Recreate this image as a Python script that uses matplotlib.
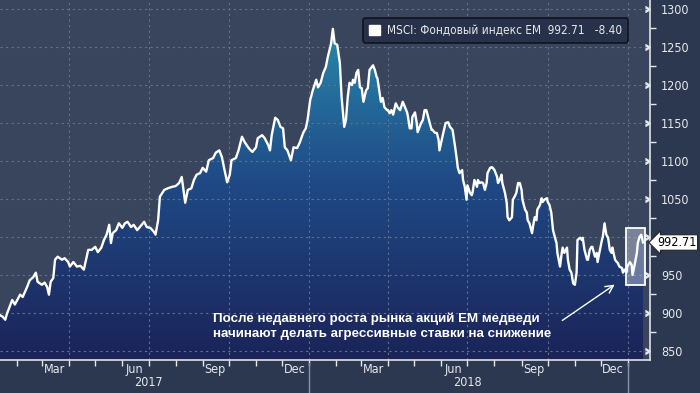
import matplotlib
matplotlib.use('Agg')
import matplotlib.pyplot as plt
import matplotlib.dates as mdates
import matplotlib.transforms as mtransforms
import numpy as np
import pandas as pd
from matplotlib.colors import LinearSegmentedColormap
from matplotlib.patches import Rectangle, Patch

# MSCI EM index (days counted from the first point)
start = pd.Timestamp('2017-01-12')
days = [0, 3, 6, 8, 14, 17, 23, 26, 31, 34, 38, 41, 43, 48, 51, 54, 56, 58, 61, 63,
        66, 71, 74, 78, 80, 84, 88, 92, 96, 101, 105, 109, 112, 116, 119, 122, 125, 127, 129, 133,
        136, 140, 143, 146, 150, 153, 157, 160, 165, 168, 172, 176, 178, 181, 183, 188, 192, 197, 201, 205,
        208, 212, 215, 219, 222, 225, 229, 232, 236, 239, 244, 247, 251, 254, 257, 260, 263, 265, 270, 273,
        277, 280, 284, 287, 289, 293, 295, 300, 303, 307, 309, 311, 315, 318, 321, 324, 326, 329, 333, 336,
        340, 343, 347, 350, 352, 355, 358, 362, 364, 367, 370, 373, 375, 379, 381, 383, 386, 389, 391, 394,
        396, 398, 400, 403, 404, 406, 408, 410, 412, 414, 416, 419, 421, 423, 427, 429, 431, 432, 436, 438,
        440, 443, 444, 446, 448, 450, 453, 455, 458, 461, 466, 467, 469, 471, 472, 475, 477, 478, 482, 484,
        486, 488, 491, 494, 495, 498, 500, 502, 503, 507, 510, 513, 515, 518, 521, 523, 524, 526, 529, 530,
        532, 534, 535, 538, 540, 541, 543, 546, 547, 549, 551, 553, 555, 557, 558, 561, 563, 564, 566, 569,
        570, 572, 574, 575, 578, 580, 581, 583, 586, 587, 589, 591, 593, 595, 597, 598, 601, 603, 604, 606,
        609, 610, 612, 614, 615, 618, 620, 621, 623, 626, 627, 629, 631, 633, 635, 637, 638, 641, 643, 644,
        646, 649, 650, 652, 654, 656, 658, 660, 661, 664, 666, 667, 669, 672, 673, 675, 677, 678, 681, 683,
        684, 686, 689, 690, 692, 694, 696, 698, 700, 701, 704, 706, 707, 709, 712, 713, 715, 717, 718, 721,
        723, 724, 726, 729, 730, 732, 734, 736]
values = [897, 895, 891, 899, 917, 911, 924, 921, 934, 943, 947, 953, 941, 937, 940, 934, 924, 941, 946, 970,
          974, 970, 972, 967, 961, 967, 961, 962, 957, 983, 983, 987, 980, 986, 996, 1003, 1016, 992, 1005, 1009,
          1018, 1012, 1018, 1020, 1013, 1016, 1009, 1013, 1020, 1013, 1012, 1007, 1003, 1022, 1053, 1062, 1064, 1066, 1067, 1071,
          1079, 1045, 1062, 1064, 1075, 1082, 1084, 1091, 1086, 1101, 1104, 1111, 1114, 1105, 1088, 1072, 1082, 1101, 1104, 1114,
          1132, 1125, 1118, 1114, 1112, 1118, 1130, 1134, 1130, 1121, 1114, 1134, 1157, 1154, 1145, 1143, 1118, 1114, 1101, 1118,
          1117, 1124, 1137, 1143, 1154, 1180, 1193, 1207, 1197, 1203, 1216, 1224, 1236, 1255, 1274, 1255, 1253, 1229, 1184, 1145,
          1154, 1184, 1203, 1200, 1207, 1203, 1216, 1220, 1197, 1196, 1178, 1193, 1196, 1220, 1226, 1220, 1211, 1209, 1178, 1183,
          1171, 1167, 1167, 1163, 1167, 1161, 1176, 1171, 1167, 1178, 1164, 1158, 1143, 1143, 1158, 1164, 1150, 1138, 1150, 1154,
          1167, 1167, 1154, 1141, 1141, 1137, 1137, 1128, 1114, 1135, 1150, 1151, 1145, 1141, 1118, 1101, 1091, 1084, 1088, 1075,
          1066, 1049, 1068, 1058, 1055, 1059, 1075, 1066, 1075, 1071, 1072, 1071, 1062, 1071, 1084, 1091, 1092, 1091, 1088, 1079,
          1071, 1075, 1082, 1071, 1058, 1045, 1026, 1022, 1026, 1049, 1053, 1058, 1071, 1071, 1062, 1049, 1036, 1032, 1022, 1018,
          1005, 1013, 1026, 1022, 1036, 1042, 1051, 1046, 1049, 1051, 1046, 1042, 1032, 1009, 1000, 992, 979, 961, 979, 986,
          979, 986, 970, 957, 953, 939, 937, 953, 996, 999, 996, 999, 983, 970, 970, 983, 987, 987, 974, 979,
          967, 979, 996, 1000, 1018, 1003, 999, 983, 979, 986, 970, 967, 966, 961, 959, 953, 957, 953, 961, 967,
          963, 950, 961, 979, 992, 1000, 1003, 992.71]
last_value = 992.71
change = -8.40
series_name = 'MSCI: Фондовый индекс EM'
note = 'После недавнего роста рынка акций EM медведи\nначинают делать агрессивные ставки на снижение'
box_from, box_to = '2018-12-29', '2019-01-20'
box_low, box_high = 937, 1012

dates = start + pd.to_timedelta(days, unit='D')
xd = mdates.date2num(dates)

bg_fig = '#2c384f'
bg_ax = '#39455d'
tick_col = '#e6e8ec'

fig = plt.figure(figsize=(7, 3.93), dpi=100, facecolor=bg_fig)
ax = fig.add_axes([0, 33 / 393, 650 / 700, 360 / 393])
ax.set_facecolor(bg_ax)

x0 = mdates.date2num(start)
x1 = mdates.date2num(start + pd.Timedelta(days=744))
y0, y1 = 838, 1312

# gradient area under the line
cmap = LinearSegmentedColormap.from_list('em', ['#1b2358', '#1f4a86', '#2a93b2'])
grad = np.linspace(0, 1, 256).reshape(-1, 1)
poly = ax.fill_between(xd, values, y0, color='none', lw=0)
im = ax.imshow(grad, extent=[x0, x1, y0, y1], aspect='auto', cmap=cmap, origin='lower', zorder=1)
im.set_clip_path(poly.get_paths()[0], transform=ax.transData)

ax.plot(xd, values, color='white', lw=1.7, zorder=4)

# highlight box
bx0 = mdates.date2num(pd.Timestamp(box_from))
bx1 = mdates.date2num(pd.Timestamp(box_to))
ax.add_patch(Rectangle((bx0, box_low), bx1 - bx0, box_high - box_low, fc='#b9c0cf', alpha=0.5,
                       ec='none', zorder=3))
ax.add_patch(Rectangle((bx0, box_low), bx1 - bx0, box_high - box_low, fc='none', ec='white',
                       lw=1.3, zorder=5))

ax.set_xlim(x0, x1)
ax.set_ylim(y0, y1)

# grid
for q in pd.date_range('2017-01-01', '2019-01-01', freq='QS'):
    ax.axvline(mdates.date2num(q), color='#62728e', lw=0.8, ls=(0, (2, 3)), zorder=2)
for v in range(850, 1301, 50):
    ax.axhline(v, color='#62728e', lw=0.8, ls=(0, (2, 3)), zorder=2)

# axes
for s in ['top', 'left']:
    ax.spines[s].set_visible(False)
for s in ['right', 'bottom']:
    ax.spines[s].set_color('#dfe2e8')
    ax.spines[s].set_linewidth(1.2)
ax.yaxis.tick_right()
ax.set_yticks(range(850, 1301, 50))
ax.set_yticks(range(875, 1301, 50), minor=True)
# the 1000 label sits under the last-value tag
ax.set_yticklabels(['' if v == 1000 else str(v) for v in range(850, 1301, 50)])
ax.tick_params(axis='y', which='major', colors=tick_col, labelsize=9, pad=2, length=6, width=1)
ax.tick_params(axis='y', which='minor', colors=tick_col, length=4, width=1)
for t in ax.yaxis.get_major_ticks():
    t.tick2line.set_marker(5)
    t.tick2line.set_markersize(5)

ax.xaxis.set_major_locator(mdates.MonthLocator())
ax.xaxis.set_major_formatter(plt.NullFormatter())
ax.xaxis.set_minor_locator(mdates.MonthLocator(bymonth=[3, 6, 9, 12], bymonthday=15))
ax.xaxis.set_minor_formatter(mdates.DateFormatter('%b'))
ax.tick_params(axis='x', which='major', colors=tick_col, length=4, width=1, direction='out')
ax.tick_params(axis='x', which='minor', colors=tick_col, length=0, labelsize=9, pad=2)
for lab in ax.get_yticklabels() + ax.get_xticklabels(minor=True):
    lab.set_fontstretch('condensed')

# years below the months
tr = mtransforms.blended_transform_factory(ax.transData, fig.transFigure)
for yr in [2017, 2018]:
    mid = mdates.date2num(pd.Timestamp(f'{yr}-07-01'))
    fig.text(mid, 10 / 393, str(yr), transform=tr, ha='center', va='center', color=tick_col,
             fontsize=9, fontstretch='condensed')
    sep = mdates.date2num(pd.Timestamp(f'{yr + 1}-01-01'))
    fig.add_artist(plt.Line2D([sep, sep], [0, 30 / 393], transform=tr, color='#8a94a8', lw=1))

# last value tag
ax.annotate(f'{last_value:.2f}', xy=(1.0, last_value), xycoords=('axes fraction', 'data'),
            xytext=(5, 0), textcoords='offset points', ha='left', va='center', color='black',
            fontsize=9, fontstretch='condensed', annotation_clip=False,
            bbox=dict(boxstyle='larrow,pad=0.1', fc='white', ec='#222222', lw=0.8))

# legend
leg = ax.legend(handles=[Patch(fc='white', ec='white')],
                labels=[f'{series_name}  {last_value:.2f}   {change:.2f}'],
                loc='upper right', bbox_to_anchor=(634 / 650, 1 - 12 / 360), frameon=True,
                facecolor='#27324a', edgecolor='#0f141d', framealpha=1, fontsize=8.5,
                handlelength=0.9, handleheight=0.9, borderpad=0.5, handletextpad=0.6)
leg.get_frame().set_linewidth(1.2)
for t in leg.get_texts():
    t.set_color('#e6e8ec')
    t.set_fontstretch('condensed')

# note and arrow
fig.text(213 / 700, 1 - 326 / 393, note, ha='left', va='center', color='white', fontsize=9.6,
         fontweight='bold', family='Liberation Sans', linespacing=1.35)
ax.annotate('', xy=(617 / 700, 1 - 283 / 393), xycoords='figure fraction',
            xytext=(560 / 700, 1 - 322 / 393), textcoords='figure fraction',
            arrowprops=dict(arrowstyle='->', color='white', lw=1, mutation_scale=14))

fig.savefig('out.png', dpi=100, facecolor=bg_fig)
